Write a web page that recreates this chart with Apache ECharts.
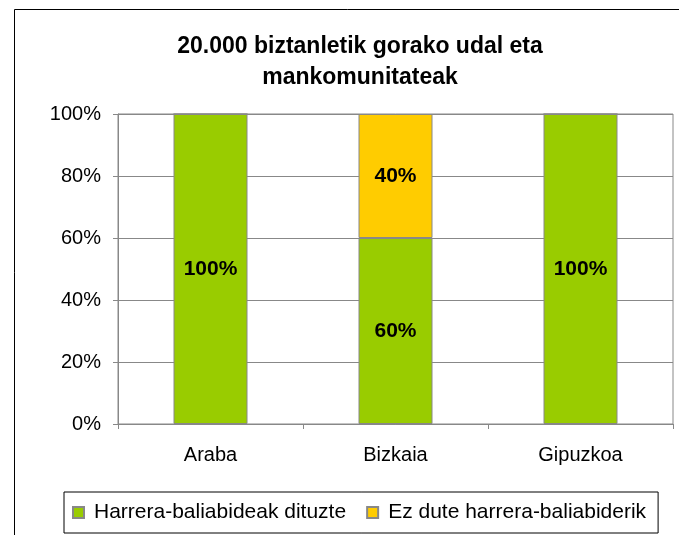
<!DOCTYPE html>
<html>
<head>
<meta charset="utf-8">
<title>Harrera-baliabideak</title>
<style>
  html, body { margin: 0; padding: 0; background: #fff; }
  #main { width: 679px; height: 535px; }
</style>
</head>
<body>
<div id="main"></div>
<script src="https://cdn.jsdelivr.net/npm/echarts@6/dist/echarts.min.js"></script>
<script>
// datuak
var lurraldeak = ['Araba', 'Bizkaia', 'Gipuzkoa'];
var baliabideak = [100, 60, 100];   // Harrera-baliabideak dituzte
var ezBaliabide = [0, 40, 0];       // Ez dute harrera-baliabiderik
var yTicks = [0, 20, 40, 60, 80, 100];

var myChart = echarts.init(document.getElementById('main'));
var font = 'Arial, "Liberation Sans", sans-serif';

function etiketa(p) {
	return p.value > 0 ? p.value + '%' : '';
}

myChart.setOption({
	animation: false,
	textStyle: { fontFamily: font },
	// kanpoko markoa
	graphic: [{
		type: 'rect',
		left: 12, top: 7,
		shape: { width: 700, height: 600 },
		style: { fill: 'none', stroke: '#000', lineWidth: 1 },
		silent: true
	}],
	title: {
		text: '20.000 biztanletik gorako udal eta\nmankomunitateak',
		left: 355, top: 26,
		textAlign: 'center',
		textStyle: { fontSize: 23, fontWeight: 'bold', color: '#000', fontFamily: font, lineHeight: 31 }
	},
	grid: {
		left: 118, right: 6, top: 114, bottom: 111,
		show: true, borderColor: '#888', borderWidth: 1
	},
	legend: {
		left: 64, top: 492,
		padding: [10, 12, 10, 8],
		borderColor: '#000', borderWidth: 1,
		itemWidth: 11, itemHeight: 11, itemGap: 20,
		icon: 'rect',
		textStyle: { fontSize: 21, color: '#000', fontFamily: font, padding: [0, 0, 0, 5] },
		data: ['Harrera-baliabideak dituzte', 'Ez dute harrera-baliabiderik']
	},
	xAxis: {
		type: 'category',
		data: lurraldeak,
		axisLine: { lineStyle: { color: '#888' } },
		axisTick: { show: true, length: 5, lineStyle: { color: '#888' } },
		axisLabel: { fontSize: 20, color: '#000', margin: 21, fontFamily: font }
	},
	yAxis: {
		type: 'value',
		min: yTicks[0], max: yTicks[yTicks.length - 1], interval: yTicks[1] - yTicks[0],
		axisLine: { show: true, lineStyle: { color: '#888' } },
		axisTick: { show: true, length: 5, lineStyle: { color: '#888' } },
		axisLabel: { formatter: '{value}%', fontSize: 20, color: '#000', margin: 17, fontFamily: font },
		splitLine: { lineStyle: { color: '#888' } }
	},
	series: [{
		name: 'Harrera-baliabideak dituzte',
		type: 'bar', stack: 'guztira',
		barWidth: '40%',
		data: baliabideak,
		itemStyle: { color: '#99CC00', borderColor: '#888', borderWidth: 1 },
		label: { show: true, position: 'inside', formatter: etiketa, fontSize: 21, fontWeight: 'bold', color: '#000', fontFamily: font }
	}, {
		name: 'Ez dute harrera-baliabiderik',
		type: 'bar', stack: 'guztira',
		barWidth: '40%',
		data: ezBaliabide,
		itemStyle: { color: '#FFCC00', borderColor: '#888', borderWidth: 1 },
		label: { show: true, position: 'inside', formatter: etiketa, fontSize: 21, fontWeight: 'bold', color: '#000', fontFamily: font }
	}]
});
</script>
</body>
</html>
